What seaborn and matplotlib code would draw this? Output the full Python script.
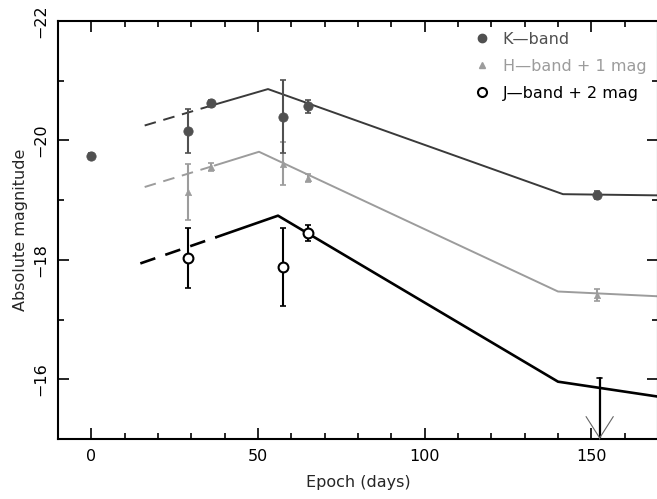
import numpy as np
import pandas as pd
import matplotlib
matplotlib.use("Agg")
import matplotlib.pyplot as plt
from matplotlib.lines import Line2D
from matplotlib.ticker import MultipleLocator
import seaborn as sns

# Observed photometry (H and J already shifted by +1 and +2 mag)
k_epoch = [0, 29, 36, 57.5, 65, 151.7]
k_mag = [-19.74, -20.16, -20.62, -20.40, -20.57, -19.09]
k_err = [0.05, 0.37, 0.06, 0.61, 0.11, 0.07]

h_epoch = [29, 36, 57.5, 65, 151.7]
h_mag = [-19.13, -19.56, -19.61, -19.37, -17.41]
h_err = [0.47, 0.07, 0.36, 0.07, 0.10]

j_epoch = [29, 57.5, 65]
j_mag = [-18.03, -17.88, -18.45]
j_err = [0.50, 0.65, 0.14]

# J-band upper limit
j_lim_epoch = 152.5
j_lim_mag = -16.02
j_lim_floor = -15.0

# Model light curves: dashed (early, extrapolated) and solid parts
k_dash_t = [16, 37]
k_dash_m = [-20.25, -20.60]
k_model_t = [37, 53, 141.5, 170]
k_model_m = [-20.60, -20.86, -19.10, -19.08]

h_dash_t = [16, 37]
h_dash_m = [-19.22, -19.58]
h_model_t = [37, 50.3, 140, 170]
h_model_m = [-19.58, -19.81, -17.47, -17.39]

j_dash_t = [14.7, 37.5]
j_dash_m = [-17.94, -18.38]
j_model_t = [37.5, 56, 140, 170]
j_model_m = [-18.38, -18.74, -15.96, -15.71]

k_col = "#505050"
h_col = "#9c9c9c"
j_col = "#000000"

sns.set_style("ticks")
plt.rcParams["font.family"] = ["DejaVu Sans"]
plt.rcParams["font.size"] = 11.5

fig = plt.figure(figsize=(6.57, 4.99), dpi=100)
ax = fig.add_axes([58 / 657, 60 / 499, 600 / 657, 418 / 499])

dash = (0, (6, 4))
for t, m, col, lw in [(k_model_t, k_model_m, "#3a3a3a", 1.4),
                      (h_model_t, h_model_m, h_col, 1.4),
                      (j_model_t, j_model_m, j_col, 1.9)]:
    sns.lineplot(x=t, y=m, ax=ax, color=col, lw=lw, sort=False)
for t, m, col, lw in [(k_dash_t, k_dash_m, "#3a3a3a", 1.4),
                      (h_dash_t, h_dash_m, h_col, 1.4),
                      (j_dash_t, j_dash_m, j_col, 1.9)]:
    sns.lineplot(x=t, y=m, ax=ax, color=col, lw=lw, linestyle=dash, sort=False)

# error bars
ax.errorbar(h_epoch, h_mag, yerr=h_err, fmt="none", ecolor=h_col,
            elinewidth=1.5, capsize=2, capthick=1.2, zorder=3)
ax.errorbar(k_epoch, k_mag, yerr=k_err, fmt="none", ecolor=k_col,
            elinewidth=1.5, capsize=2, capthick=1.2, zorder=3)
ax.errorbar(j_epoch, j_mag, yerr=j_err, fmt="none", ecolor=j_col,
            elinewidth=1.5, capsize=2, capthick=1.2, zorder=3)

df = pd.concat([
    pd.DataFrame({"epoch": k_epoch, "mag": k_mag, "band": "K"}),
    pd.DataFrame({"epoch": h_epoch, "mag": h_mag, "band": "H"}),
    pd.DataFrame({"epoch": j_epoch, "mag": j_mag, "band": "J"}),
])
sns.scatterplot(data=df[df.band == "K"], x="epoch", y="mag", ax=ax,
                marker="o", s=45, color=k_col, edgecolor=k_col, zorder=4, legend=False)
sns.scatterplot(data=df[df.band == "H"], x="epoch", y="mag", ax=ax,
                marker="^", s=22, color=h_col, edgecolor=h_col, zorder=4, legend=False)
sns.scatterplot(data=df[df.band == "J"], x="epoch", y="mag", ax=ax,
                marker="o", s=50, facecolor="white", edgecolor=j_col, linewidth=1.5,
                zorder=4, legend=False)

# upper limit: bar with cap, then a thin open arrow head at the axis
ax.plot([j_lim_epoch - 0.7, j_lim_epoch + 0.7], [j_lim_mag, j_lim_mag], color=j_col, lw=1.2)
ax.plot([j_lim_epoch, j_lim_epoch], [j_lim_mag, j_lim_floor], color=j_col, lw=1.6)
ax.annotate("", xy=(j_lim_epoch, j_lim_floor), xytext=(j_lim_epoch, j_lim_floor - 0.05),
            arrowprops=dict(arrowstyle="->,head_length=0.55,head_width=0.35",
                            color="#666666", lw=0.8, mutation_scale=28),
            annotation_clip=False)

ax.set_xlim(-10, 170)
ax.set_ylim(-15, -22)
ax.xaxis.set_major_locator(MultipleLocator(50))
ax.xaxis.set_minor_locator(MultipleLocator(10))
ax.yaxis.set_major_locator(MultipleLocator(2))
ax.yaxis.set_minor_locator(MultipleLocator(1))
ax.tick_params(which="both", direction="in", top=True, right=True, width=1.2, colors="black")
ax.tick_params(which="major", length=8, pad=7)
ax.tick_params(which="minor", length=4)
plt.setp(ax.get_yticklabels(), rotation=90, va="center")
for s in ax.spines.values():
    s.set_linewidth(1.5)
    s.set_color("black")

ax.set_xlabel("Epoch (days)", labelpad=8)
ax.set_ylabel("Absolute magnitude", labelpad=4)

handles = [
    Line2D([], [], marker="o", ls="none", color=k_col, markersize=6),
    Line2D([], [], marker="^", ls="none", color=h_col, markersize=4.5),
    Line2D([], [], marker="o", ls="none", markerfacecolor="white",
           markeredgecolor=j_col, markeredgewidth=1.5, markersize=6.5),
]
labels = ["K\u2014band", "H\u2014band + 1 mag", "J\u2014band + 2 mag"]
leg = ax.legend(handles, labels, loc="upper left", bbox_to_anchor=((466 - 58) / 600, (439 - 24) / 418),
                frameon=False, borderpad=0, handlelength=1.0, handletextpad=0.8,
                labelspacing=0.75, fontsize=11.5)
for txt, col in zip(leg.get_texts(), [k_col, h_col, j_col]):
    txt.set_color(col)

fig.savefig("out.png", dpi=100)
